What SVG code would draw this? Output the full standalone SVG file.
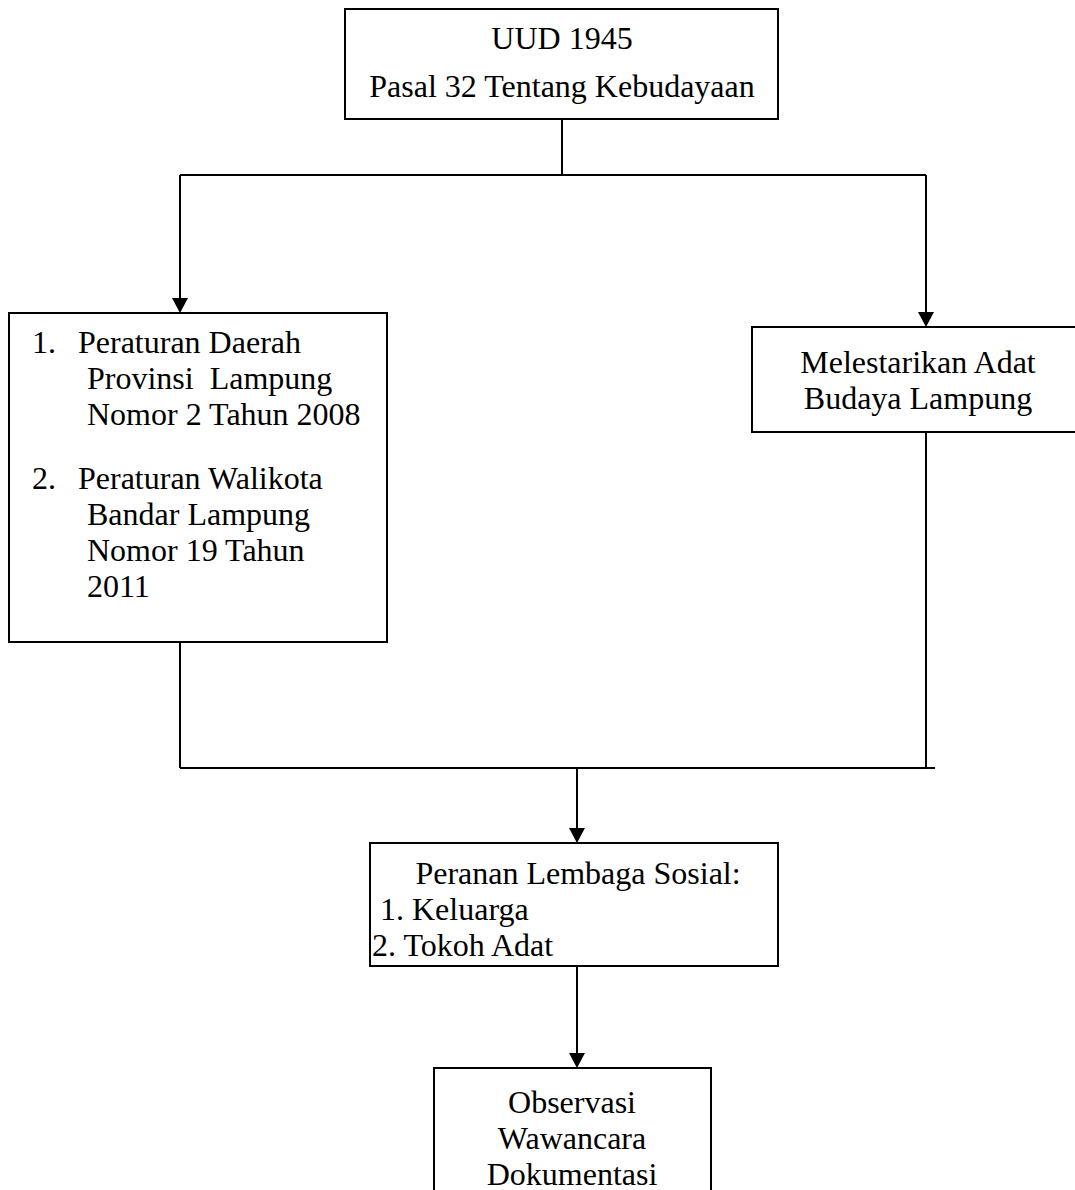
<svg xmlns="http://www.w3.org/2000/svg" width="1075" height="1190" viewBox="0 0 1075 1190">
<style>
.box{fill:#fff;stroke:#000;stroke-width:2}
.ln{fill:none;stroke:#000;stroke-width:2}
text{font-family:"Liberation Serif","Times New Roman",serif;font-size:32px;fill:#000}
.c{text-anchor:middle}
</style>
<defs>
<marker id="ah" markerUnits="userSpaceOnUse" markerWidth="16" markerHeight="16" viewBox="0 0 16 16" refX="8" refY="16" orient="auto-start-reverse">
<path d="M0,0 L16,0 L8,16 Z" fill="#000" transform="rotate(-90 8 8)"/>
</marker>
</defs>
<rect width="1075" height="1190" fill="#fff"/>
<g id="connectors">
<path class="ln" d="M562,119 V175"/>
<path class="ln" d="M180,175 H926"/>
<path class="ln" d="M180,175 V298"/>
<polygon points="172,298 188,298 180,313" fill="#000"/>
<path class="ln" d="M926,175 V312"/>
<polygon points="918,312 934,312 926,327" fill="#000"/>
<path class="ln" d="M180,642 V768"/>
<path class="ln" d="M926,432 V768"/>
<path class="ln" d="M180,768 H935"/>
<path class="ln" d="M577,768 V828"/>
<polygon points="569,828 585,828 577,843" fill="#000"/>
<path class="ln" d="M577,966 V1053"/>
<polygon points="569,1053 585,1053 577,1068" fill="#000"/>
</g>
<g id="node-uud">
<rect class="box" x="345" y="9" width="433" height="110"/>
<text class="c" x="562" y="49">UUD 1945</text>
<text class="c" x="562" y="97">Pasal 32 Tentang Kebudayaan</text>
</g>
<g id="node-peraturan">
<rect class="box" x="9" y="313" width="378" height="329"/>
<text x="32" y="353">1.</text>
<text x="78" y="353">Peraturan Daerah</text>
<text x="87" y="389" style="white-space:pre">Provinsi  Lampung</text>
<text x="87" y="425">Nomor 2 Tahun 2008</text>
<text x="32" y="489">2.</text>
<text x="78" y="489">Peraturan Walikota</text>
<text x="87" y="525">Bandar Lampung</text>
<text x="87" y="561">Nomor 19 Tahun</text>
<text x="87" y="597">2011</text>
</g>
<g id="node-melestarikan">
<rect class="box" x="752" y="327" width="330" height="105"/>
<text class="c" x="918" y="373">Melestarikan Adat</text>
<text class="c" x="918" y="409">Budaya Lampung</text>
</g>
<g id="node-peranan">
<rect class="box" x="370" y="843" width="408" height="123"/>
<text class="c" x="578" y="884">Peranan Lembaga Sosial:</text>
<text x="380" y="920">1. Keluarga</text>
<text x="372" y="956">2. Tokoh Adat</text>
</g>
<g id="node-metode">
<rect class="box" x="434" y="1068" width="277" height="140"/>
<text class="c" x="572" y="1113">Observasi</text>
<text class="c" x="572" y="1149">Wawancara</text>
<text class="c" x="572" y="1185">Dokumentasi</text>
</g>
</svg>
